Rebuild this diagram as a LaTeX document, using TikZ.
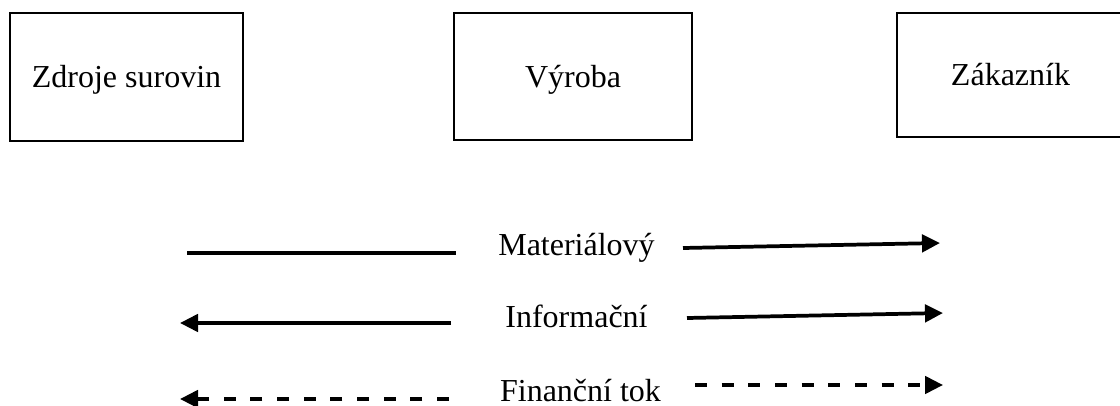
\documentclass[tikz,border=0pt]{standalone}
\usepackage{fontspec}
\setmainfont{Liberation Serif}
\usetikzlibrary{arrows.meta}

\begin{document}
\begin{tikzpicture}[
    x={(0.75pt,0pt)}, y={(0pt,-0.75pt)},
    box/.style={draw=black, line width=1.5pt, inner sep=0pt, outer sep=0pt,
        text height=16pt, text depth=0pt, font=\fontsize{24}{28}\selectfont},
    lbl/.style={anchor=base, inner sep=0pt, font=\fontsize{24}{28}\selectfont},
    flow/.style={line width=2.8pt},
    tip/.style={-{Triangle[length=13.5pt, width=13pt]}},
    money/.style={flow, dash pattern=on 9pt off 11pt},
]

\useasboundingbox (0,0) rectangle (1120,406);

% Boxes
\node[box, minimum width=174.75pt, minimum height=96pt] (zdroje) at (126.5,77) {Zdroje surovin};
\node[box, minimum width=178.5pt, minimum height=95.25pt] (vyroba) at (573,76.5) {Výroba};
\node[box, minimum width=170.25pt, minimum height=93pt] (zakaznik) at (1010.5,75) {Zákazník};

% Legend labels
\node[lbl] (mat) at (576.5,255) {Materiálový};
\node[lbl] (inf) at (576.5,327) {Informační};
\node[lbl] (fin) at (580.5,401) {Finanční tok};

% Legend end points
\coordinate (matL1) at (187,253);
\coordinate (matL2) at (456,253);
\coordinate (matR1) at (683,248);
\coordinate (matR2) at (940,243);
\coordinate (infL1) at (451,323);
\coordinate (infL2) at (180,323);
\coordinate (infR1) at (687,318);
\coordinate (infR2) at (943,313);
\coordinate (finL1) at (449,399);
\coordinate (finL2) at (180,399);
\coordinate (finR1) at (695,385);
\coordinate (finR2) at (943,385);

% Material flow
\draw[flow] (matL1) -- (matL2);
\draw[flow, tip] (matR1) -- (matR2);

% Information flow
\draw[flow, tip] (infL1) -- (infL2);
\draw[flow, tip] (infR1) -- (infR2);

% Financial flow
\draw[money, tip] (finL1) -- (finL2);
\draw[money, tip] (finR1) -- (finR2);

\end{tikzpicture}
\end{document}
